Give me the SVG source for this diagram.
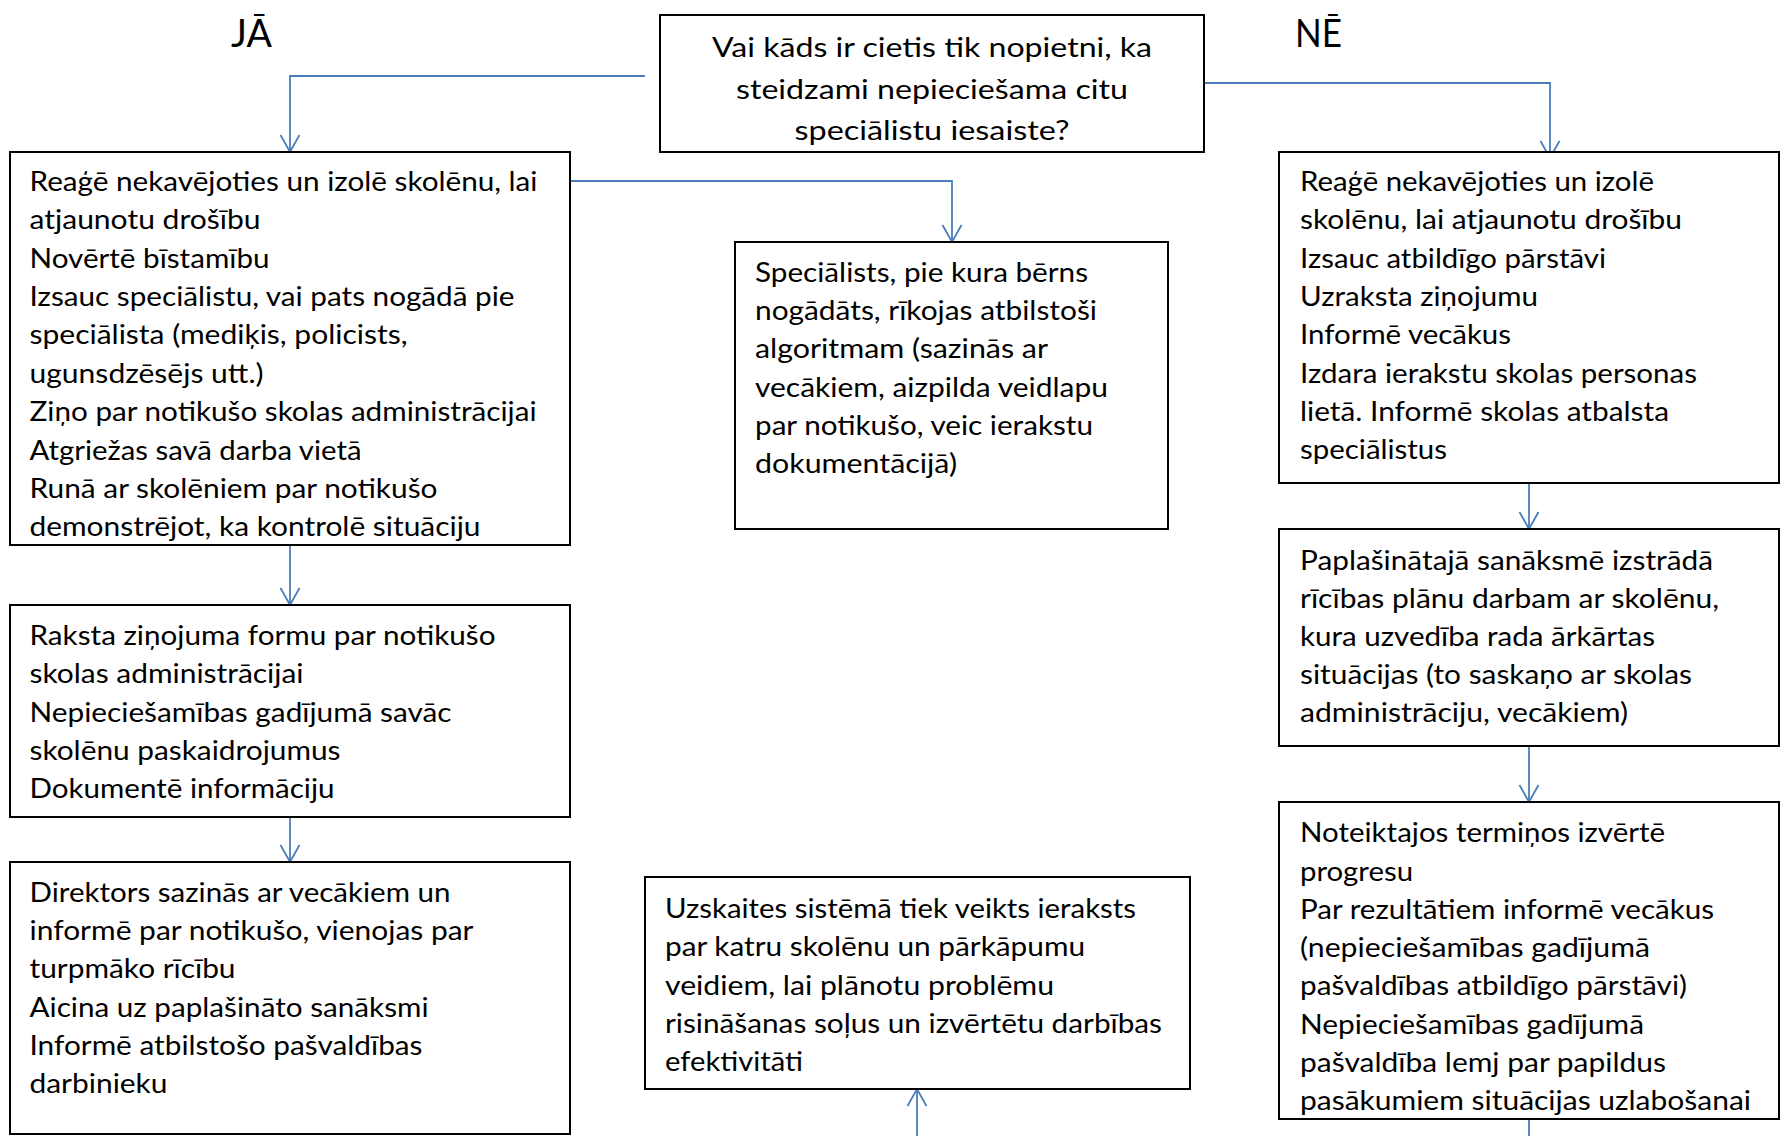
<svg xmlns="http://www.w3.org/2000/svg" width="1783" height="1136" viewBox="0 0 1783 1136">
<style>
.box{fill:#ffffff;stroke:#000000;stroke-width:2}
.t{font-family:Lato,"Open Sans","Liberation Sans",sans-serif;font-size:27px;fill:#000000}
.h{font-family:Lato,"Open Sans","Liberation Sans",sans-serif;font-size:38px;fill:#000000}
.c{fill:none;stroke:#4A7EBB;stroke-width:1.8}
</style>
<defs>
<marker id="arr" markerUnits="userSpaceOnUse" viewBox="-20 -12 22 24" markerWidth="22" markerHeight="24" refX="0" refY="0" orient="auto" overflow="visible">
<path d="M-17,-9.5 L0,0 L-17,9.5" fill="none" stroke="#4A7EBB" stroke-width="1.8"/>
</marker>
</defs>
<rect width="1783" height="1136" fill="#ffffff"/>

<g id="label-ja"><text class="h" x="231" y="46.7" textLength="41" lengthAdjust="spacingAndGlyphs">JĀ</text></g>
<g id="label-ne"><text class="h" x="1295" y="46.7" textLength="47" lengthAdjust="spacingAndGlyphs">NĒ</text></g>

<g id="connectors">
<path class="c" d="M645,76 H290 V152" marker-end="url(#arr)"/>
<path class="c" d="M1204,83 H1550 V158" marker-end="url(#arr)"/>
<path class="c" d="M570,181 H952 V242" marker-end="url(#arr)"/>
<path class="c" d="M290,545 V605" marker-end="url(#arr)"/>
<path class="c" d="M290,817 V862" marker-end="url(#arr)"/>
<path class="c" d="M1529,483 V529" marker-end="url(#arr)"/>
<path class="c" d="M1529,746 V802" marker-end="url(#arr)"/>
<path class="c" d="M1529,1119 V1136"/>
<path class="c" d="M917,1136 V1089" marker-end="url(#arr)"/>
</g>

<g id="question">
<rect class="box" x="660" y="15" width="544" height="137"/>
<text class="t" x="932" y="57" text-anchor="middle" textLength="440" lengthAdjust="spacingAndGlyphs">Vai kāds ir cietis tik nopietni, ka</text>
<text class="t" x="932" y="98.5" text-anchor="middle" textLength="392" lengthAdjust="spacingAndGlyphs">steidzami nepieciešama citu</text>
<text class="t" x="932" y="139.5" text-anchor="middle" textLength="275" lengthAdjust="spacingAndGlyphs">speciālistu iesaiste?</text>
</g>

<g id="ja-step1">
<rect class="box" x="10" y="152" width="560" height="393"/>
<text class="t" x="29.5" y="190.7" textLength="508" lengthAdjust="spacingAndGlyphs">Reaģē nekavējoties un izolē skolēnu, lai</text>
<text class="t" x="29.5" y="229.1" textLength="231" lengthAdjust="spacingAndGlyphs">atjaunotu drošību</text>
<text class="t" x="29.5" y="267.5" textLength="240" lengthAdjust="spacingAndGlyphs">Novērtē bīstamību</text>
<text class="t" x="29.5" y="305.9" textLength="485" lengthAdjust="spacingAndGlyphs">Izsauc speciālistu, vai pats nogādā pie</text>
<text class="t" x="29.5" y="344.3" textLength="378" lengthAdjust="spacingAndGlyphs">speciālista (mediķis, policists,</text>
<text class="t" x="29.5" y="382.7" textLength="234" lengthAdjust="spacingAndGlyphs">ugunsdzēsējs utt.)</text>
<text class="t" x="29.5" y="421.1" textLength="507" lengthAdjust="spacingAndGlyphs">Ziņo par notikušo skolas administrācijai</text>
<text class="t" x="29.5" y="459.5" textLength="332" lengthAdjust="spacingAndGlyphs">Atgriežas savā darba vietā</text>
<text class="t" x="29.5" y="497.9" textLength="408" lengthAdjust="spacingAndGlyphs">Runā ar skolēniem par notikušo</text>
<text class="t" x="29.5" y="536.3" textLength="451" lengthAdjust="spacingAndGlyphs">demonstrējot, ka kontrolē situāciju</text>
</g>

<g id="ja-specialist">
<rect class="box" x="735" y="242" width="433" height="287"/>
<text class="t" x="755" y="281.7" textLength="333" lengthAdjust="spacingAndGlyphs">Speciālists, pie kura bērns</text>
<text class="t" x="755" y="320" textLength="342" lengthAdjust="spacingAndGlyphs">nogādāts, rīkojas atbilstoši</text>
<text class="t" x="755" y="358.3" textLength="293" lengthAdjust="spacingAndGlyphs">algoritmam (sazinās ar</text>
<text class="t" x="755" y="396.6" textLength="353" lengthAdjust="spacingAndGlyphs">vecākiem, aizpilda veidlapu</text>
<text class="t" x="755" y="434.9" textLength="338" lengthAdjust="spacingAndGlyphs">par notikušo, veic ierakstu</text>
<text class="t" x="755" y="473.2" textLength="202" lengthAdjust="spacingAndGlyphs">dokumentācijā)</text>
</g>

<g id="ja-step2">
<rect class="box" x="10" y="605" width="560" height="212"/>
<text class="t" x="29.5" y="645" textLength="466" lengthAdjust="spacingAndGlyphs">Raksta ziņojuma formu par notikušo</text>
<text class="t" x="29.5" y="683.3" textLength="274" lengthAdjust="spacingAndGlyphs">skolas administrācijai</text>
<text class="t" x="29.5" y="721.6" textLength="422" lengthAdjust="spacingAndGlyphs">Nepieciešamības gadījumā savāc</text>
<text class="t" x="29.5" y="759.9" textLength="311" lengthAdjust="spacingAndGlyphs">skolēnu paskaidrojumus</text>
<text class="t" x="29.5" y="798.2" textLength="305" lengthAdjust="spacingAndGlyphs">Dokumentē informāciju</text>
</g>

<g id="ja-step3">
<rect class="box" x="10" y="862" width="560" height="272"/>
<text class="t" x="29.5" y="901.7" textLength="421" lengthAdjust="spacingAndGlyphs">Direktors sazinās ar vecākiem un</text>
<text class="t" x="29.5" y="940" textLength="444" lengthAdjust="spacingAndGlyphs">informē par notikušo, vienojas par</text>
<text class="t" x="29.5" y="978.3" textLength="206" lengthAdjust="spacingAndGlyphs">turpmāko rīcību</text>
<text class="t" x="29.5" y="1016.6" textLength="399" lengthAdjust="spacingAndGlyphs">Aicina uz paplašināto sanāksmi</text>
<text class="t" x="29.5" y="1054.9" textLength="393" lengthAdjust="spacingAndGlyphs">Informē atbilstošo pašvaldības</text>
<text class="t" x="29.5" y="1093.2" textLength="138" lengthAdjust="spacingAndGlyphs">darbinieku</text>
</g>

<g id="records">
<rect class="box" x="645" y="877" width="545" height="212"/>
<text class="t" x="665" y="918.3" textLength="471" lengthAdjust="spacingAndGlyphs">Uzskaites sistēmā tiek veikts ieraksts</text>
<text class="t" x="665" y="956.4" textLength="420" lengthAdjust="spacingAndGlyphs">par katru skolēnu un pārkāpumu</text>
<text class="t" x="665" y="994.5" textLength="389" lengthAdjust="spacingAndGlyphs">veidiem, lai plānotu problēmu</text>
<text class="t" x="665" y="1032.6" textLength="497" lengthAdjust="spacingAndGlyphs">risināšanas soļus un izvērtētu darbības</text>
<text class="t" x="665" y="1070.7" textLength="138" lengthAdjust="spacingAndGlyphs">efektivitāti</text>
</g>

<g id="ne-step1">
<rect class="box" x="1279" y="152" width="500" height="331"/>
<text class="t" x="1300" y="191" textLength="354" lengthAdjust="spacingAndGlyphs">Reaģē nekavējoties un izolē</text>
<text class="t" x="1300" y="229.3" textLength="382" lengthAdjust="spacingAndGlyphs">skolēnu, lai atjaunotu drošību</text>
<text class="t" x="1300" y="267.6" textLength="306" lengthAdjust="spacingAndGlyphs">Izsauc atbildīgo pārstāvi</text>
<text class="t" x="1300" y="305.9" textLength="238" lengthAdjust="spacingAndGlyphs">Uzraksta ziņojumu</text>
<text class="t" x="1300" y="344.2" textLength="211" lengthAdjust="spacingAndGlyphs">Informē vecākus</text>
<text class="t" x="1300" y="382.5" textLength="397" lengthAdjust="spacingAndGlyphs">Izdara ierakstu skolas personas</text>
<text class="t" x="1300" y="420.8" textLength="369" lengthAdjust="spacingAndGlyphs">lietā. Informē skolas atbalsta</text>
<text class="t" x="1300" y="459.1" textLength="147" lengthAdjust="spacingAndGlyphs">speciālistus</text>
</g>

<g id="ne-step2">
<rect class="box" x="1279" y="529" width="500" height="217"/>
<text class="t" x="1300" y="570" textLength="413" lengthAdjust="spacingAndGlyphs">Paplašinātajā sanāksmē izstrādā</text>
<text class="t" x="1300" y="608.1" textLength="419" lengthAdjust="spacingAndGlyphs">rīcības plānu darbam ar skolēnu,</text>
<text class="t" x="1300" y="646.2" textLength="355" lengthAdjust="spacingAndGlyphs">kura uzvedība rada ārkārtas</text>
<text class="t" x="1300" y="684.3" textLength="392" lengthAdjust="spacingAndGlyphs">situācijas (to saskaņo ar skolas</text>
<text class="t" x="1300" y="722.4" textLength="328" lengthAdjust="spacingAndGlyphs">administrāciju, vecākiem)</text>
</g>

<g id="ne-step3">
<rect class="box" x="1279" y="802" width="500" height="317"/>
<text class="t" x="1300" y="842.3" textLength="365" lengthAdjust="spacingAndGlyphs">Noteiktajos termiņos izvērtē</text>
<text class="t" x="1300" y="880.5" textLength="113" lengthAdjust="spacingAndGlyphs">progresu</text>
<text class="t" x="1300" y="918.8" textLength="414" lengthAdjust="spacingAndGlyphs">Par rezultātiem informē vecākus</text>
<text class="t" x="1300" y="957" textLength="350" lengthAdjust="spacingAndGlyphs">(nepieciešamības gadījumā</text>
<text class="t" x="1300" y="995.3" textLength="387" lengthAdjust="spacingAndGlyphs">pašvaldības atbildīgo pārstāvi)</text>
<text class="t" x="1300" y="1033.5" textLength="344" lengthAdjust="spacingAndGlyphs">Nepieciešamības gadījumā</text>
<text class="t" x="1300" y="1071.8" textLength="366" lengthAdjust="spacingAndGlyphs">pašvaldība lemj par papildus</text>
<text class="t" x="1300" y="1110" textLength="451" lengthAdjust="spacingAndGlyphs">pasākumiem situācijas uzlabošanai</text>
</g>
</svg>
